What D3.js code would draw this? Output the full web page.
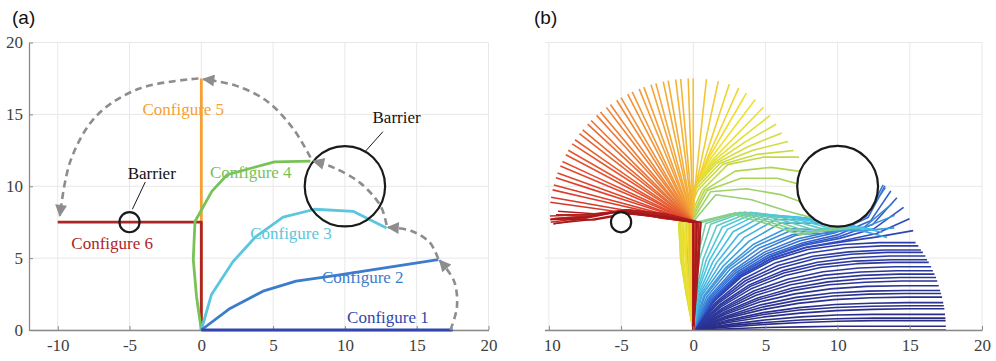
<!DOCTYPE html>
<html>
<head>
<meta charset="utf-8">
<script src="https://cdn.jsdelivr.net/npm/d3@7"></script>
<style>
  body { margin: 0; background: #fff; }
  svg { display: block; }
  .tick text { font-family: "Liberation Serif", "Times New Roman", serif; font-size: 17px; fill: #404040; }
  .panel-label { font-family: "Liberation Sans", Arial, sans-serif; font-size: 19px; fill: #111; }
  .cfg-label, .barrier-label { font-family: "Liberation Serif", "Times New Roman", serif; font-size: 17px; }
</style>
</head>
<body>
<svg id="chart" width="996" height="361"></svg>
<script>
// ---------- data (in plot units) ----------
const xTicks = [-10, -5, 0, 5, 10, 15, 20];
const yTicks = [0, 5, 10, 15, 20];

// panel (a): the six configurations
const config1 = [[0, 0], [17.5, 0]];
const config2 = [[0, 0], [2.0, 1.5], [4.3, 2.7], [6.6, 3.4], [9.4, 3.8], [13.0, 4.35], [16.5, 4.9]];
const config3 = [[0, 0], [0.7, 2.45], [2.2, 4.75], [3.8, 6.5], [5.7, 7.85], [7.9, 8.4], [10.6, 8.25], [12.9, 7.1]];
const config4 = [[0, 0], [-0.33, 2.3], [-0.56, 4.9], [-0.44, 7.55], [0.73, 9.64], [1.8, 10.8], [5.1, 11.7], [7.6, 11.75]];
const config5 = [[0, 0], [0, 17.5]];
const config6 = [[0, 0], [0, 7.5], [-10, 7.5]];
const configNames = ["Configure 1", "Configure 2", "Configure 3", "Configure 4", "Configure 5", "Configure 6"];
const configLabelAt = [[10.15, 0.9], [8.4, 3.7], [3.4, 6.75], [0.6, 11.0], [-4.1, 15.4], [-9.05, 6.05]];

// barriers: centre x, centre y, radius
const barriers = [[10, 10, 2.8], [-5, 7.5, 0.7]];
const barrierLabelAt = [[13.6, 14.8], [-3.45, 10.9]];
const barrierLeaders = [[[12.65, 13.8], [11.4, 12.4]], [[-3.9, 10.3], [-4.8, 8.4]]];

// dashed transition arcs (way points)
const arc1 = [[17.35, 0], [17.8, 1.6], [17.6, 3.4], [16.6, 4.85]];
const arc2 = [[16.5, 4.95], [15.9, 6.1], [14.6, 6.9], [13.0, 7.15]];
const arc3 = [[12.9, 7.3], [12.5, 8.6], [11.1, 10.2], [9.2, 11.3], [7.8, 11.75]];
const arc4 = [[7.6, 12.0], [6.4, 14.0], [4.6, 15.9], [2.4, 17.0], [0.15, 17.45]];
const arc5 = [[-0.2, 17.5], [-4.3, 16.8], [-7.3, 14.9], [-9.1, 11.8], [-9.85, 7.95]];

// panel (b): snake frames as link angles (deg), 7 links of equal length
const LINK = 2.5;
const framesA = [
  [0, 0, 0, 0, 0, 0, 0], [2, 2, 1, 1, 0, 0, 0], [5, 4, 3, 2, 1, 0, 0], [7, 5, 4, 2, 1, 0, 0],
  [9, 7, 5, 3, 1, 0, 0], [12, 9, 6, 4, 2, 1, 0], [14, 11, 7, 4, 2, 1, 0], [16, 12, 8, 5, 2, 1, 0],
  [19, 14, 10, 6, 3, 1, 0], [21, 16, 11, 7, 3, 1, 0], [23, 18, 12, 7, 3, 1, 0], [26, 20, 13, 8, 4, 1, 0],
  [28, 22, 15, 9, 4, 2, 0], [30, 23, 16, 10, 5, 2, 0], [33, 25, 17, 10, 5, 2, 0], [35, 27, 18, 11, 5, 2, 0],
  [37, 29, 19, 12, 6, 2, 0], [40, 31, 21, 13, 6, 2, 0], [42, 33, 22, 13, 6, 2, 0], [44, 34, 23, 14, 7, 3, 0],
  [47, 36, 24, 15, 7, 3, 0], [49, 38, 25, 15, 7, 3, 0], [51, 40, 27, 16, 8, 3, 0], [54, 42, 28, 17, 8, 3, 0]
];
const framesB = [
  [55, 43, 29, 18, 9, 8, 10], [56, 43, 29, 18, 10, 12, 24], [57, 44, 30, 19, 11, 16, 36],
  [58, 44, 30, 20, 12, 20, 48], [59, 45, 31, 20, 13, 23, 56], [61, 46, 32, 21, 13, 25, 62],
  [63, 47, 33, 22, 12, 24, 62], [65, 48, 35, 24, 10, 20, 55], [68, 50, 36, 22, 2, 10, 40],
  [71, 51, 38, 24, 0, 4, 22], [73, 52, 40, 26, -2, -2, 5], [76, 54, 44, 30, 0, -8, -15]
];
const framesC = [
  [78, 58, 48, 30, 0, -8, -12], [80, 62, 52, 30, -2, -10, -10], [82, 66, 56, 28, -4, -12, -8],
  [84, 70, 60, 26, -6, -14, -5], [85, 74, 64, 24, -8, -15, -2], [86, 78, 68, 22, -10, -16, 0],
  [88, 82, 72, 20, -12, -17, 2], [89, 85, 76, 18, -14, -18, 5], [90, 88, 80, 16, -15, -18, 8],
  [91, 90, 84, 14, -16, -18, 10], [92, 91, 88, 50, -8, -18, -15], [93, 92, 88, 58, 5, -10, -20],
  [94, 93, 88, 62, 20, 0, -15], [95, 94, 88, 64, 32, 6, -8]
];
const framesD = [
  [97, 95, 88, 65, 45, 12, 0], [99, 97, 90, 66, 46, 16, 6], [100, 98, 92, 67, 47, 22, 14],
  [101, 99, 93, 68, 48, 28, 22], [101, 99, 93, 69, 50, 34, 30], [100, 98, 93, 70, 53, 40, 38],
  [99, 97, 92, 72, 56, 46, 46], [97, 96, 92, 74, 60, 53, 53], [96, 95, 91, 76, 64, 60, 60],
  [94, 93, 91, 78, 68, 66, 66], [93, 92, 90, 80, 73, 72, 72], [92, 91, 90, 83, 78, 78, 78],
  [91, 90, 90, 86, 84, 84, 84], [90, 90, 90, 90, 90, 90, 90]
];
// upper four links swinging as one straight piece (config 5 -> 6)
const fanAngles = [92, 95, 97, 100, 102, 105, 107, 110, 112, 115, 117, 120, 122, 125, 127, 130, 132,
  135, 137, 140, 142, 145, 147, 150, 152, 155, 157, 160, 162, 165, 167, 170, 172];
const framesF = [
  [90, 90, 90, 168, 175, 185, 182], [90, 90, 90, 170, 172, 188, 185], [89, 90, 91, 172, 170, 190, 188],
  [88, 89, 90, 173, 168, 192, 190], [87, 88, 89, 170, 170, 190, 184], [86, 87, 88, 168, 172, 188, 180],
  [85, 86, 87, 166, 174, 186, 176], [86, 86, 86, 170, 176, 190, 178], [88, 88, 88, 172, 174, 190, 186],
  [90, 90, 90, 170, 172, 190, 184]
];

// ---------- styles ----------
const configColors = ["#3346ad", "#3d7ccb", "#5bc6dc", "#78c257", "#f6a033", "#ad2527"];
const jetStops = [0, 0.125, 0.25, 0.375, 0.5, 0.625, 0.75, 0.875, 1];
const jetColors = ["#2a2b82", "#2f4cc4", "#3a8ad8", "#48c6e4", "#a6d45a", "#f0e12e", "#f4a43a", "#e0402e", "#a3161a"];
const jet = d3.scaleLinear().domain(jetStops).range(jetColors);
const phaseRange = [[0, 0.07], [0.1, 0.3], [0.33, 0.52], [0.55, 0.69], [0.71, 0.9], [0.93, 1]];

// ---------- layout ----------
const svg = d3.select("#chart");
const y = d3.scaleLinear().domain([0, 20]).range([330, 42.5]);
const xA = d3.scaleLinear().domain([-12, 20]).range([29, 488.5]);
const xB = d3.scaleLinear().domain([-12, 20]).range([520, 982]);
const gridColor = "#e8e8e8";
const axisColor = "#8a8a8a";

svg.append("defs").append("clipPath").attr("id", "clipB")
  .append("rect").attr("x", 545).attr("y", 0).attr("width", 451).attr("height", 361);

svg.select("defs").append("marker")
  .attr("id", "arrow")
  .attr("viewBox", "0 0 10 10")
  .attr("refX", 9).attr("refY", 5)
  .attr("markerUnits", "userSpaceOnUse")
  .attr("markerWidth", 14).attr("markerHeight", 12)
  .attr("orient", "auto")
  .append("path").attr("d", "M0,0L10,5L0,10Z").attr("fill", "#8d8d8d");

function drawGrid(g, x) {
  g.append("g").selectAll("line").data(xTicks).join("line")
    .attr("x1", d => x(d)).attr("x2", d => x(d))
    .attr("y1", y(0)).attr("y2", y(20))
    .attr("stroke", gridColor);
  g.append("g").selectAll("line").data(yTicks).join("line")
    .attr("x1", x.range()[0]).attr("x2", x(20))
    .attr("y1", d => y(d)).attr("y2", d => y(d))
    .attr("stroke", gridColor);
}

function drawXAxis(g, x) {
  const ax = g.append("g").attr("transform", `translate(0,${y(0)})`)
    .call(d3.axisBottom(x).tickValues(xTicks).tickFormat(d => String(d))
      .tickSizeInner(-4).tickSizeOuter(0).tickPadding(9));
  ax.select(".domain").attr("stroke", axisColor).attr("stroke-width", 1.3);
  ax.selectAll(".tick line").attr("stroke", axisColor);
  return ax;
}

// ---------- panel (a) ----------
const gA = svg.append("g");
drawGrid(gA, xA);
drawXAxis(gA, xA);
const axY = gA.append("g").attr("transform", `translate(${xA.range()[0]},0)`)
  .call(d3.axisLeft(y).tickValues(yTicks).tickSizeInner(-4).tickSizeOuter(0).tickPadding(6));
axY.select(".domain").attr("stroke", axisColor).attr("stroke-width", 1.3);
axY.selectAll(".tick line").attr("stroke", axisColor);

const lineA = d3.line().x(d => xA(d[0])).y(d => y(d[1]));
const configs = [config1, config2, config3, config4, config5, config6];
const drawOrder = [4, 5, 3, 2, 1, 0];
gA.append("g").selectAll("path").data(drawOrder).join("path")
  .attr("d", i => lineA(configs[i]))
  .attr("fill", "none")
  .attr("stroke", i => configColors[i])
  .attr("stroke-width", 2.8)
  .attr("stroke-linejoin", "round");

gA.append("g").selectAll("text").data(configNames).join("text")
  .attr("class", "cfg-label")
  .attr("x", (d, i) => xA(configLabelAt[i][0]))
  .attr("y", (d, i) => y(configLabelAt[i][1]))
  .attr("dy", "0.35em")
  .attr("fill", (d, i) => configColors[i])
  .text(d => d);

const unit = xA(1) - xA(0);
gA.append("g").selectAll("circle").data(barriers).join("circle")
  .attr("cx", d => xA(d[0])).attr("cy", d => y(d[1])).attr("r", d => d[2] * unit)
  .attr("fill", "none").attr("stroke", "#1a1a1a").attr("stroke-width", 2.2);

gA.append("g").selectAll("line").data(barrierLeaders).join("line")
  .attr("x1", d => xA(d[0][0])).attr("y1", d => y(d[0][1]))
  .attr("x2", d => xA(d[1][0])).attr("y2", d => y(d[1][1]))
  .attr("stroke", "#1a1a1a").attr("stroke-width", 1);

gA.append("g").selectAll("text").data(barrierLabelAt).join("text")
  .attr("class", "barrier-label")
  .attr("x", d => xA(d[0])).attr("y", d => y(d[1]))
  .attr("dy", "0.35em").attr("text-anchor", "middle").attr("fill", "#111")
  .text("Barrier");

const arcLine = d3.line().x(d => xA(d[0])).y(d => y(d[1])).curve(d3.curveCatmullRom.alpha(0.5));
gA.append("g").selectAll("path").data([arc1, arc2, arc3, arc4, arc5]).join("path")
  .attr("d", arcLine)
  .attr("fill", "none")
  .attr("stroke", "#8d8d8d")
  .attr("stroke-width", 2.6)
  .attr("stroke-dasharray", "7,4.5")
  .attr("marker-end", "url(#arrow)");

svg.append("text").attr("class", "panel-label").attr("x", 12).attr("y", 24).text("(a)");

// ---------- panel (b) ----------
function chain(angles) {
  const pts = [[0, 0]];
  let px = 0, py = 0;
  for (const a of angles) {
    const r = a * Math.PI / 180;
    px += LINK * Math.cos(r);
    py += LINK * Math.sin(r);
    pts.push([px, py]);
  }
  return pts;
}

const framesE = fanAngles.map(a => [90, 90, 90, a, a, a, a]);
const phases = [framesA, framesB, framesC, framesD, framesE, framesF];
const frames = [];
phases.forEach((fr, p) => {
  const [c0, c1] = phaseRange[p];
  fr.forEach((angles, i) => {
    const t = fr.length > 1 ? c0 + (c1 - c0) * i / (fr.length - 1) : c0;
    frames.push({ pts: chain(angles), color: jet(t) });
  });
});

const gB = svg.append("g").attr("clip-path", "url(#clipB)");
drawGrid(gB, xB);
const lineB = d3.line().x(d => xB(d[0])).y(d => y(d[1]));
gB.append("g").selectAll("path").data(frames).join("path")
  .attr("d", d => lineB(d.pts))
  .attr("fill", "none")
  .attr("stroke", d => d.color)
  .attr("stroke-width", 1.6)
  .attr("stroke-linejoin", "round");

const unitB = xB(1) - xB(0);
gB.append("g").selectAll("circle").data(barriers).join("circle")
  .attr("cx", d => xB(d[0])).attr("cy", d => y(d[1])).attr("r", d => d[2] * unitB)
  .attr("fill", "#fff").attr("stroke", "#1a1a1a").attr("stroke-width", 2.2);

drawXAxis(gB, xB);

svg.append("text").attr("class", "panel-label").attr("x", 534).attr("y", 24).text("(b)");
</script>
</body>
</html>
